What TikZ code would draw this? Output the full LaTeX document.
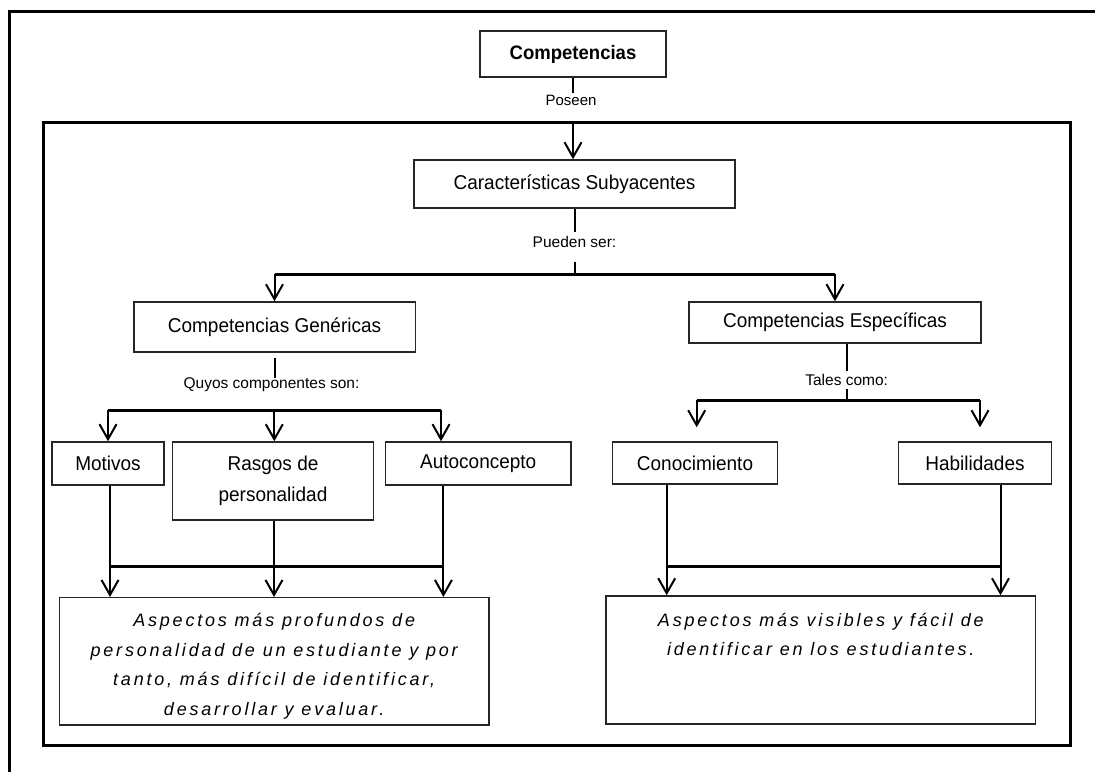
\documentclass[tikz,border=0pt]{standalone}
\usepackage{fontspec}
\setmainfont{Liberation Sans}
\newfontfamily\spacedit[LetterSpace=15.5]{Liberation Sans}
\newfontfamily\boxfont[FakeStretch=0.95]{Liberation Sans}
\usetikzlibrary{arrows.meta}
\begin{document}
\begin{tikzpicture}[x=1pt,y=-1pt,
  box/.style={draw=black!85, line width=1.5pt, fill=white, inner sep=0pt,
    align=center, font=\boxfont\fontsize{20}{30.5}\selectfont},
  lbl/.style={inner sep=0pt, font=\fontsize{15.5}{18}\selectfont},
  frameline/.style={line width=3pt},
  conn/.style={line width=2pt},
  barline/.style={line width=3pt},
  arr/.style={line width=2pt, -{Straight Barb[length=15pt,width=17pt,line width=2pt]}},
  asptext/.style={font=\spacedit\itshape\fontsize{18}{29.5}\selectfont},
]
\useasboundingbox (0,0) rectangle (1095,772);
\fill[white] (0,0) rectangle (1095,772);
% frames
\draw[frameline] (9.5,772) -- (9.5,11) -- (1095,11);
\draw[frameline] (43.5,122.7) rectangle (1070,745.7);
\coordinate (ftop) at (573,122.7);

% nodes
\node[box, minimum width=186pt, minimum height=46pt, font=\boxfont\bfseries\fontsize{19.5}{22}\selectfont] (comp) at (573,54) {Competencias};
\node[box, minimum width=321pt, minimum height=48pt] (cs) at (574.5,184) {Características Subyacentes};
\node[box, minimum width=281.5pt, minimum height=50pt] (gen) at (274.5,327) {Competencias Genéricas};
\node[box, minimum width=292pt, minimum height=41pt] (esp) at (835,322.5) {Competencias Específicas};
\node[box, minimum width=112pt, minimum height=43pt] (mot) at (108,463.5) {Motivos};
\node[box, minimum width=201pt, minimum height=78pt] (ras) at (273,481) {Rasgos de\\personalidad};
\node[box, minimum width=185.5pt, minimum height=43pt] (auto) at (478.2,463.5) {Autoconcepto};
\node[box, minimum width=165pt, minimum height=42pt] (con) at (695,463) {Conocimiento};
\node[box, minimum width=153pt, minimum height=42pt] (hab) at (975,463) {Habilidades};
\node[box, asptext, minimum width=429.6pt, minimum height=127.3pt] (asp1) at (274.2,661.35)
  {\parbox[c][127pt][t]{425pt}{\centering\rule{0pt}{29pt}Aspectos más profundos de\\
   personalidad de un estudiante y por\\ tanto, más difícil de identificar,\\ desarrollar y evaluar.}};
\node[box, asptext, minimum width=429.6pt, minimum height=128pt] (asp2) at (820.8,660)
  {\parbox[c][128pt][t]{425pt}{\centering\rule{0pt}{30pt}Aspectos más visibles y fácil de\\
   identificar en los estudiantes.}};

% Competencias -> Caracteristicas
\node[lbl, font=\fontsize{15}{18}\selectfont, fill=white, inner sep=2pt] (poseen) at (571,100) {Poseen};
\draw[conn] (comp.south) -- (poseen.north -| comp.south);
\draw[arr] (ftop) -- (cs.north -| ftop);

% Caracteristicas -> Genericas / Especificas
\node[lbl, inner xsep=2pt, inner ysep=4pt] (pueden) at (574.5,241.7) {Pueden ser:};
\coordinate (j1) at (574.5,274);
\draw[conn] (cs.south) -- (pueden.north);
\draw[conn] ([yshift=-10pt]pueden.south) -- (j1);
\draw[barline] (gen.north |- j1) -- (esp.north |- j1);
\draw[arr] (gen.north |- j1) -- (gen.north);
\draw[arr] (esp.north |- j1) -- (esp.north);

% Genericas -> componentes
\node[lbl] (quyos) at (271.5,385) {Quyos componentes son:};
\draw[conn] ([yshift=-5pt]gen.south) -- (gen.south |- quyos.north);
\coordinate (a1) at (108,410);
\coordinate (a2) at (274.3,410);
\coordinate (a3) at (441,410);
\draw[barline] (a1) -- (a3);
\draw[arr] (a1) -- (a1 |- mot.north);
\draw[arr] (a2) -- (a2 |- ras.north);
\draw[arr] (a3) -- (a3 |- auto.north);

% Especificas -> Conocimiento / Habilidades
\coordinate (j3) at (846.7,400);
\draw[conn] (j3 |- esp.south) -- (j3);
\node[lbl, fill=white, inner xsep=2pt, inner ysep=3pt] (tales) at (846.7,380) {Tales como:};
\coordinate (k1) at (696.7,400);
\coordinate (k2) at (980,400);
\draw[barline] (k1) -- (k2);
\draw[arr] (k1) -- ([yshift=14pt]con.north -| k1);
\draw[arr] (k2) -- ([yshift=14pt]hab.north -| k2);

% bottom left
\coordinate (b1) at (110,566.7);
\coordinate (b2) at (274,566.7);
\coordinate (b3) at (443.4,566.7);
\draw[arr] (b1 |- mot.south) -- (b1 |- asp1.north);
\draw[arr] (b2 |- ras.south) -- (b2 |- asp1.north);
\draw[arr] (b3 |- auto.south) -- (b3 |- asp1.north);
\draw[barline] (b1) -- (b3);

% bottom right
\coordinate (c1) at (666.7,566);
\coordinate (c2) at (1000.5,566);
\draw[arr] (c1 |- con.south) -- (c1 |- asp2.north);
\draw[arr] (c2 |- hab.south) -- (c2 |- asp2.north);
\draw[barline] (c1) -- (c2);
\end{tikzpicture}
\end{document}
